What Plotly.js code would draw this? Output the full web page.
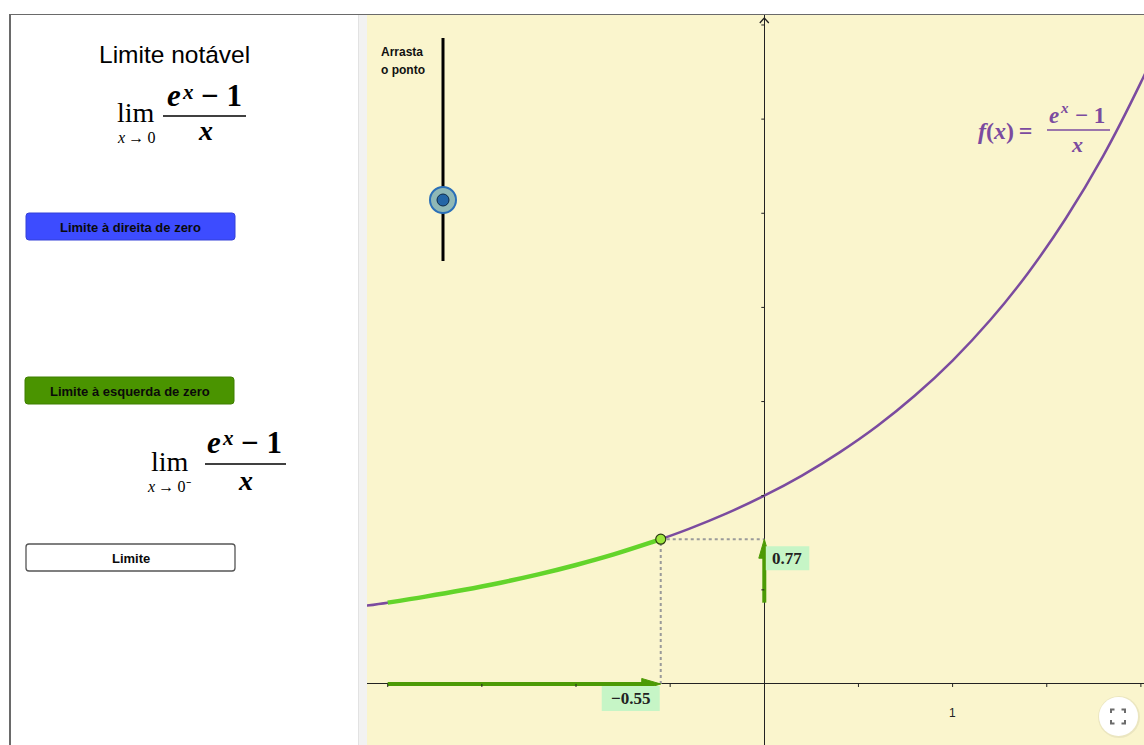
<!DOCTYPE html>
<html><head><meta charset="utf-8">
<script src="https://cdn.plot.ly/plotly-3.0.1.min.js"></script>
<style>html,body{margin:0;padding:0;background:#fff;overflow:hidden}#chart{width:1144px;height:745px}</style>
</head><body><div id="chart"></div>
<script>
// ---------- data ----------
const curveX = [-2.2,-2.0,-1.8,-1.6,-1.4,-1.2,-1.0,-0.8,-0.6,-0.4,-0.2,0,0.2,0.4,0.6,0.8,1.0,1.2,1.4,1.6,1.8,2.0,2.1];
const curveY = [0.404,0.432,0.464,0.499,0.538,0.582,0.632,0.688,0.752,0.824,0.906,1.000,1.107,1.230,1.370,1.532,1.718,1.933,2.182,2.471,2.805,3.195,3.413];
const leftX = [-2.0,-1.8,-1.6,-1.4,-1.2,-1.0,-0.8,-0.6,-0.55];
const leftY = [0.432,0.464,0.499,0.538,0.582,0.632,0.688,0.752,0.769];
const pointX = [-0.55];
const pointY = [0.769];
const arrowStartX = [-2.0];
const arrowStartY = [0.432];
const xTicks = [-2,-1.5,-1,-0.5,0.5,1,1.5,2];
const yTicks = [0.5,1,1.5,2,2.5,3,3.5];
const xTickLabelVals = [1];
const xTickLabels = ['1'];

// ---------- layout geometry ----------
const W = 1144, H = 745;
const plotLeft = 367, plotTop = 15;
const xRange = [-2.110, 2.0165], yRange = [-0.324, 3.553];
const pxX = (W - plotLeft) / (xRange[1] - xRange[0]);
const pxY = (H - plotTop) / (yRange[1] - yRange[0]);
const PX = x => x / W, PY = y => 1 - y / H;

const purple = '#7b4b9f', lightGreen = '#63d42b', darkGreen = '#4c9a05';
const serif = 'Liberation Serif', sans = 'Liberation Sans';

function rrect(x0, y0, x1, y1, r) {
  return `M${PX(x0+r)},${PY(y0)} L${PX(x1-r)},${PY(y0)} Q${PX(x1)},${PY(y0)} ${PX(x1)},${PY(y0+r)} ` +
         `L${PX(x1)},${PY(y1-r)} Q${PX(x1)},${PY(y1)} ${PX(x1-r)},${PY(y1)} L${PX(x0+r)},${PY(y1)} ` +
         `Q${PX(x0)},${PY(y1)} ${PX(x0)},${PY(y1-r)} L${PX(x0)},${PY(y0+r)} Q${PX(x0)},${PY(y0)} ${PX(x0+r)},${PY(y0)} Z`;
}
const fmt = v => (v < 0 ? '\u2212' : '') + Math.abs(v).toFixed(2);

// ---------- traces ----------
const px0 = pointX[0], py0 = pointY[0];
const headL = 19, headW = 5.5;
const hlx = headL / pxX, hwy = headW / pxY;
const hly = headL / pxY, hwx = headW / pxX;

const traces = [
  {x: curveX, y: curveY, mode: 'lines', line: {color: purple, width: 2.5, shape: 'spline'}, hoverinfo: 'skip'},
  {x: leftX, y: leftY, mode: 'lines', line: {color: lightGreen, width: 4.5, shape: 'spline'}, hoverinfo: 'skip'},
  {x: [px0, px0], y: [0, py0], mode: 'lines', line: {color: '#9a9a9a', width: 2, dash: 'dot'}, hoverinfo: 'skip'},
  {x: [px0, 0], y: [py0, py0], mode: 'lines', line: {color: '#9a9a9a', width: 2, dash: 'dot'}, hoverinfo: 'skip'},
  {x: [arrowStartX[0], px0 - hlx * 0.8], y: [0, 0], mode: 'lines', line: {color: darkGreen, width: 4}, hoverinfo: 'skip'},
  {x: [px0, px0 - hlx, px0 - hlx, px0], y: [0, hwy, -hwy, 0], mode: 'lines', fill: 'toself',
   fillcolor: darkGreen, line: {color: darkGreen, width: 1}, hoverinfo: 'skip'},
  {x: [0, 0], y: [arrowStartY[0], py0 - hly * 0.8], mode: 'lines', line: {color: darkGreen, width: 4}, hoverinfo: 'skip'},
  {x: [0, hwx, -hwx, 0], y: [py0, py0 - hly, py0 - hly, py0], mode: 'lines', fill: 'toself',
   fillcolor: darkGreen, line: {color: darkGreen, width: 1}, hoverinfo: 'skip'},
  {x: pointX, y: pointY, mode: 'markers', marker: {size: 10, color: '#9be63c', line: {color: '#2a3a10', width: 1.2}}, hoverinfo: 'skip'}
];

// ---------- shapes ----------
const shapes = [];
shapes.push({type: 'rect', xref: 'paper', yref: 'paper', x0: PX(358), x1: PX(367), y0: 0, y1: PY(15),
  fillcolor: '#f2f2f2', line: {width: 0}, layer: 'below'});
shapes.push({type: 'line', xref: 'paper', yref: 'paper', x0: PX(358.5), x1: PX(358.5), y0: 0, y1: PY(15),
  line: {color: '#e2e2e2', width: 1}});
shapes.push({type: 'line', xref: 'paper', yref: 'paper', x0: PX(10), x1: 1, y0: PY(14.5), y1: PY(14.5),
  line: {color: '#6a6a6a', width: 1}});
shapes.push({type: 'line', xref: 'paper', yref: 'paper', x0: PX(10), x1: PX(10), y0: 0, y1: PY(14),
  line: {color: '#6a6a6a', width: 2}});
xTicks.forEach(t => shapes.push({type: 'line', xref: 'x', yref: 'y', x0: t, x1: t,
  ysizemode: 'pixel', yanchor: 0, y0: 0, y1: -3, line: {color: '#222', width: 1}}));
yTicks.forEach(t => shapes.push({type: 'line', xref: 'x', yref: 'y', y0: t, y1: t,
  xsizemode: 'pixel', xanchor: 0, x0: 0, x1: -3, line: {color: '#222', width: 1}}));
shapes.push({type: 'rect', xref: 'x', yref: 'y', xsizemode: 'pixel', ysizemode: 'pixel',
  xanchor: px0, yanchor: 0, x0: -59, x1: -1, y0: -2, y1: -27, fillcolor: '#c6f5c6', line: {width: 0}});
shapes.push({type: 'rect', xref: 'x', yref: 'y', xsizemode: 'pixel', ysizemode: 'pixel',
  xanchor: 0, yanchor: py0, x0: 1.5, x1: 45, y0: -7, y1: -31, fillcolor: '#c6f5c6', line: {width: 0}});
shapes.push({type: 'line', xref: 'paper', yref: 'paper', x0: PX(163), x1: PX(246), y0: PY(116), y1: PY(116), line: {color: '#000', width: 1.6}});
shapes.push({type: 'line', xref: 'paper', yref: 'paper', x0: PX(205), x1: PX(286), y0: PY(464), y1: PY(464), line: {color: '#000', width: 1.6}});
shapes.push({type: 'line', xref: 'paper', yref: 'paper', x0: PX(1047), x1: PX(1110), y0: PY(130), y1: PY(130), line: {color: purple, width: 1.5}});
shapes.push({type: 'path', xref: 'paper', yref: 'paper', path: rrect(26, 213, 235, 240, 3), fillcolor: '#3d4cff', line: {color: '#3541d8', width: 1}});
shapes.push({type: 'path', xref: 'paper', yref: 'paper', path: rrect(25, 377, 234, 404, 3), fillcolor: '#4a9400', line: {color: '#3f7f00', width: 1}});
shapes.push({type: 'path', xref: 'paper', yref: 'paper', path: rrect(26, 544, 235, 571, 3), fillcolor: '#ffffff', line: {color: '#555', width: 1.3}});
shapes.push({type: 'line', xref: 'paper', yref: 'paper', x0: PX(443), x1: PX(443), y0: PY(38), y1: PY(261), line: {color: '#000', width: 3}});
shapes.push({type: 'circle', xref: 'paper', yref: 'paper', x0: PX(430), x1: PX(456), y0: PY(213), y1: PY(187), fillcolor: '#8fb8b6', line: {color: '#2a6fb8', width: 2}});
shapes.push({type: 'circle', xref: 'paper', yref: 'paper', x0: PX(437), x1: PX(449), y0: PY(206), y1: PY(194), fillcolor: '#2466a6', line: {color: '#0d2a48', width: 1}});
shapes.push({type: 'circle', xref: 'paper', yref: 'paper', x0: PX(1098), x1: PX(1140), y0: PY(738), y1: PY(696), fillcolor: 'rgba(0,0,0,0.06)', line: {width: 0}});
shapes.push({type: 'circle', xref: 'paper', yref: 'paper', x0: PX(1099), x1: PX(1138), y0: PY(736), y1: PY(697), fillcolor: '#ffffff', line: {width: 0}});
const ic = (pts) => 'M' + pts.map(p => PX(p[0]) + ',' + PY(p[1])).join(' L');
[[[1111,713],[1111,709.5],[1114.5,709.5]], [[1121.5,709.5],[1125,709.5],[1125,713]],
 [[1111,720],[1111,723.5],[1114.5,723.5]], [[1121.5,723.5],[1125,723.5],[1125,720]]].forEach(p =>
  shapes.push({type: 'path', xref: 'paper', yref: 'paper', path: ic(p), line: {color: '#6b6b6b', width: 2}}));

// ---------- annotations ----------
const ann = [];
const pa = (x, y, text, font, extra) => Object.assign({xref: 'paper', yref: 'paper', x: PX(x), y: PY(y), text: text,
  showarrow: false, font: font, xanchor: 'center', yanchor: 'middle'}, extra || {});
const F = (size, color, fam) => ({family: fam || serif, size: size, color: color || '#000'});
ann.push(pa(174.5, 54, 'Limite notável', F(24.5, '#000', sans)));
// formula 1
ann.push(pa(136, 112.5, 'lim', F(28)));
ann.push(pa(136, 137.5, '<i>x</i>\u2009→\u20090', F(16)));
ann.push(pa(174, 95, '<b><i>e</i></b>', F(31)));
ann.push(pa(187.5, 92, '<b><i>x</i></b>', F(21)));
ann.push(pa(221, 95, '<b>− 1</b>', F(31)));
ann.push(pa(205, 130.5, '<b><i>x</i></b>', F(28)));
// formula 2
ann.push(pa(170, 461, 'lim', F(28)));
ann.push(pa(169, 486, '<i>x</i>\u2009→\u20090\u207B', F(16)));
ann.push(pa(214, 442.5, '<b><i>e</i></b>', F(31)));
ann.push(pa(227.5, 438.5, '<b><i>x</i></b>', F(21)));
ann.push(pa(261, 442.5, '<b>− 1</b>', F(31)));
ann.push(pa(245, 480.6, '<b><i>x</i></b>', F(28)));
// buttons
ann.push(pa(130.5, 227, '<b>Limite à direita de zero</b>', F(13, '#0a0a0a', sans)));
ann.push(pa(129.5, 391, '<b>Limite à esquerda de zero</b>', F(13, '#0a0a0a', sans)));
ann.push(pa(130.5, 558, '<b>Limite</b>', F(13, '#0a0a0a', sans)));
// slider caption
ann.push(pa(379, 52, '<b>Arrasta</b>', F(12, '#111', sans), {xanchor: 'left'}));
ann.push(pa(379, 70, '<b>o ponto</b>', F(12, '#111', sans), {xanchor: 'left'}));
// function label
ann.push(pa(1005, 131, '<b><i>f</i>(<i>x</i>)\u2009=</b>', F(24, purple)));
ann.push(pa(1054, 115.5, '<b><i>e</i></b>', F(23, purple)));
ann.push(pa(1064, 108.5, '<b><i>x</i></b>', F(15, purple)));
ann.push(pa(1090, 115.5, '<b>− 1</b>', F(23, purple)));
ann.push(pa(1077, 144.6, '<b><i>x</i></b>', F(22, purple)));
// value labels
ann.push({xref: 'x', yref: 'y', x: px0, y: 0, xshift: -30, yshift: -14.5, text: '<b>' + fmt(px0) + '</b>',
  showarrow: false, xanchor: 'center', yanchor: 'middle', font: F(17, '#222')});
ann.push({xref: 'x', yref: 'y', x: 0, y: py0, xshift: 23, yshift: -19, text: '<b>' + fmt(py0) + '</b>',
  showarrow: false, xanchor: 'center', yanchor: 'middle', font: F(17, '#222')});
xTickLabelVals.forEach((v, i) => ann.push({xref: 'x', yref: 'y', x: v, y: 0, yshift: -29, text: xTickLabels[i],
  showarrow: false, xanchor: 'center', yanchor: 'middle', font: F(12, '#222', sans)}));

const layout = {
  width: W, height: H, margin: {l: 0, r: 0, t: 0, b: 0},
  paper_bgcolor: '#ffffff', plot_bgcolor: '#faf5cd', showlegend: false,
  xaxis: {domain: [plotLeft / W, 1], range: xRange, showgrid: false, zeroline: true, zerolinecolor: '#222',
    zerolinewidth: 1, showticklabels: false, ticks: '', showline: false, fixedrange: true},
  yaxis: {domain: [0, 1 - plotTop / H], range: yRange, showgrid: false, zeroline: true, zerolinecolor: '#222',
    zerolinewidth: 1, showticklabels: false, ticks: '', showline: false, fixedrange: true},
  shapes: shapes, annotations: ann
};
// y-axis arrow head (open chevron) built in pixel units at the axis top
shapes.push({type: 'path', xref: 'x', yref: 'y', xsizemode: 'pixel', ysizemode: 'pixel', xanchor: 0,
  yanchor: yRange[1], path: 'M-4.5,-8 L0,-3 L4.5,-8', line: {color: '#222', width: 1.3}});
Plotly.newPlot('chart', traces, layout, {displayModeBar: false, staticPlot: true});
</script></body></html>
